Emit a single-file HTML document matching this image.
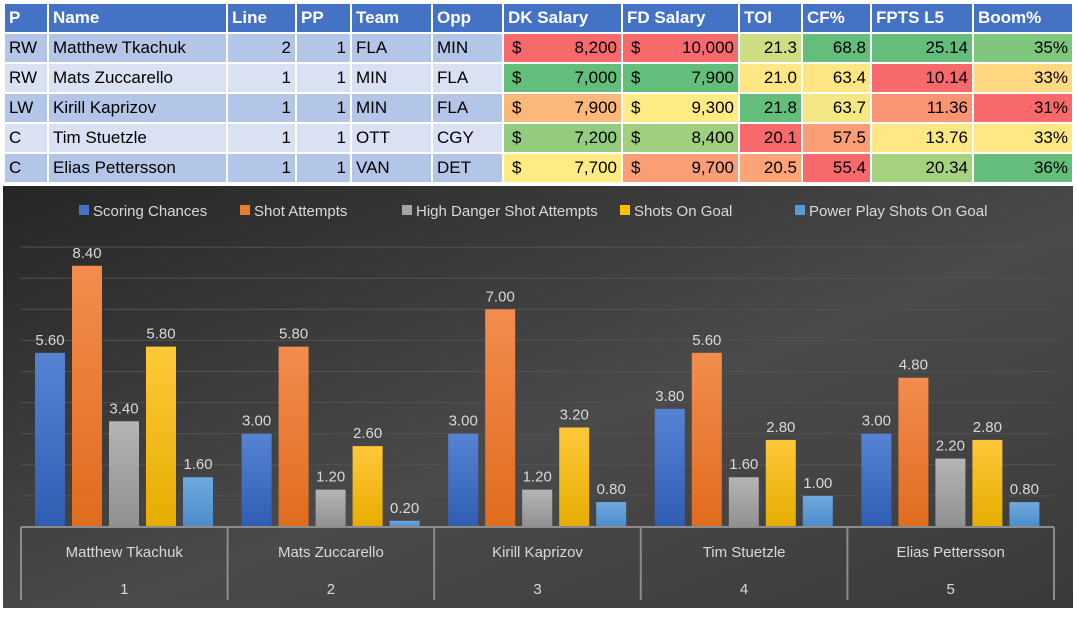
<!DOCTYPE html>
<html><head><meta charset="utf-8"><style>
body{margin:0;width:1077px;height:621px;background:#fff;overflow:hidden;font-family:"Liberation Sans",sans-serif}
table{position:absolute;left:3px;top:2px;border-collapse:collapse;font-size:17px;table-layout:fixed}
td,th{height:30px;padding:0 4px;border:2px solid #fff;white-space:nowrap;overflow:hidden;box-sizing:border-box}
th{background:#4472c4;color:#fff;text-align:left;font-weight:bold}
tr.a td.b{background:#b4c6e7}tr.c td.b{background:#d9e1f2}
.r{text-align:right}
.m{display:flex;justify-content:space-between;padding-left:4px}
#chart{position:absolute;left:3px;top:186px}
</style></head><body>
<table>
<colgroup><col style="width:44px"><col style="width:179px"><col style="width:69px"><col style="width:55px"><col style="width:81px"><col style="width:71px"><col style="width:119px"><col style="width:117px"><col style="width:63px"><col style="width:69px"><col style="width:102px"><col style="width:100px"></colgroup>
<tr><th>P</th><th>Name</th><th>Line</th><th>PP</th><th>Team</th><th>Opp</th><th>DK Salary</th><th>FD Salary</th><th>TOI</th><th>CF%</th><th>FPTS L5</th><th>Boom%</th></tr>
<tr class="a"><td class="b">RW</td><td class="b">Matthew Tkachuk</td><td class="b r">2</td><td class="b r">1</td><td class="b">FLA</td><td class="b">MIN</td><td style="background:#f8696b"><div class="m"><span>$</span><span>8,200</span></div></td><td style="background:#f8696b"><div class="m"><span>$</span><span>10,000</span></div></td><td class="r" style="background:#cddd82">21.3</td><td class="r" style="background:#63be7b">68.8</td><td class="r" style="background:#63be7b">25.14</td><td class="r" style="background:#7fc67d">35%</td></tr>
<tr class="c"><td class="b">RW</td><td class="b">Mats Zuccarello</td><td class="b r">1</td><td class="b r">1</td><td class="b">MIN</td><td class="b">FLA</td><td style="background:#63be7b"><div class="m"><span>$</span><span>7,000</span></div></td><td style="background:#63be7b"><div class="m"><span>$</span><span>7,900</span></div></td><td class="r" style="background:#ffe884">21.0</td><td class="r" style="background:#fee683">63.4</td><td class="r" style="background:#f8696b">10.14</td><td class="r" style="background:#ffd881">33%</td></tr>
<tr class="a"><td class="b">LW</td><td class="b">Kirill Kaprizov</td><td class="b r">1</td><td class="b r">1</td><td class="b">MIN</td><td class="b">FLA</td><td style="background:#fcb77a"><div class="m"><span>$</span><span>7,900</span></div></td><td style="background:#ffeb84"><div class="m"><span>$</span><span>9,300</span></div></td><td class="r" style="background:#63be7b">21.8</td><td class="r" style="background:#f4e884">63.7</td><td class="r" style="background:#fa9473">11.36</td><td class="r" style="background:#f8696b">31%</td></tr>
<tr class="c"><td class="b">C</td><td class="b">Tim Stuetzle</td><td class="b r">1</td><td class="b r">1</td><td class="b">OTT</td><td class="b">CGY</td><td style="background:#94cc7f"><div class="m"><span>$</span><span>7,200</span></div></td><td style="background:#a0d07f"><div class="m"><span>$</span><span>8,400</span></div></td><td class="r" style="background:#f8696b">20.1</td><td class="r" style="background:#fb9d75">57.5</td><td class="r" style="background:#ffe884">13.76</td><td class="r" style="background:#ffe884">33%</td></tr>
<tr class="a"><td class="b">C</td><td class="b">Elias Pettersson</td><td class="b r">1</td><td class="b r">1</td><td class="b">VAN</td><td class="b">DET</td><td style="background:#ffeb84"><div class="m"><span>$</span><span>7,700</span></div></td><td style="background:#fa9f75"><div class="m"><span>$</span><span>9,700</span></div></td><td class="r" style="background:#fca477">20.5</td><td class="r" style="background:#f8696b">55.4</td><td class="r" style="background:#a6d27f">20.34</td><td class="r" style="background:#63be7b">36%</td></tr>
</table>
<svg id="chart" width="1070" height="422">
<defs>
<linearGradient id="bg" x1="0" y1="0" x2="1" y2="1"><stop offset="0" stop-color="#262626"/><stop offset="0.55" stop-color="#4a4a4a"/><stop offset="1" stop-color="#3a3a3a"/></linearGradient>
<linearGradient id="g0" x1="0" y1="0" x2="0" y2="1"><stop offset="0" stop-color="#5683d4"/><stop offset="1" stop-color="#2f5db3"/></linearGradient>
<linearGradient id="g1" x1="0" y1="0" x2="0" y2="1"><stop offset="0" stop-color="#f38c4e"/><stop offset="1" stop-color="#e06c1d"/></linearGradient>
<linearGradient id="g2" x1="0" y1="0" x2="0" y2="1"><stop offset="0" stop-color="#b5b5b5"/><stop offset="1" stop-color="#909090"/></linearGradient>
<linearGradient id="g3" x1="0" y1="0" x2="0" y2="1"><stop offset="0" stop-color="#ffc83a"/><stop offset="1" stop-color="#e6ad00"/></linearGradient>
<linearGradient id="g4" x1="0" y1="0" x2="0" y2="1"><stop offset="0" stop-color="#6fa9dd"/><stop offset="1" stop-color="#4a8ccb"/></linearGradient>
</defs>
<rect width="1070" height="422" fill="url(#bg)"/>
<g id="grid"></g><g id="bars"></g><g id="axis"></g><g id="legend"></g>
</svg>
<script>
const categories=["Matthew Tkachuk","Mats Zuccarello","Kirill Kaprizov","Tim Stuetzle","Elias Pettersson"];
const categoryNums=["1","2","3","4","5"];
const seriesNames=["Scoring Chances","Shot Attempts","High Danger Shot Attempts","Shots On Goal","Power Play Shots On Goal"];
const scoringChances=[5.6,3.0,3.0,3.8,3.0];
const shotAttempts=[8.4,5.8,7.0,5.6,4.8];
const highDanger=[3.4,1.2,1.2,1.6,2.2];
const shotsOnGoal=[5.8,2.6,3.2,2.8,2.8];
const ppShotsOnGoal=[1.6,0.2,0.8,1.0,0.8];
const gridTicks=[1,2,3,4,5,6,7,8,9];
const series=[scoringChances,shotAttempts,highDanger,shotsOnGoal,ppShotsOnGoal];
const NS="http://www.w3.org/2000/svg";
const X0=18,X1=1051,BASE=341,UNIT=31.1;
const gw=(X1-X0)/categories.length;
const y=v=>BASE-v*UNIT;
const xb=(c,s)=>X0+c*gw+14+s*37;
function mk(t,a,p){const e=document.createElementNS(NS,t);for(const k in a)e.setAttribute(k,a[k]);p.appendChild(e);return e;}
const grid=document.getElementById('grid');
gridTicks.forEach(t=>{const l=mk('line',{x1:X0,x2:X1,y1:y(t),y2:y(t),stroke:'#525252','stroke-width':1},grid);

});
const bars=document.getElementById('bars');
series.forEach((arr,s)=>arr.forEach((v,c)=>{
const r=mk('rect',{x:xb(c,s),y:y(v),width:30,height:v*UNIT,fill:'url(#g'+s+')'},bars);


const t=mk('text',{x:xb(c,s)+15,y:y(v)-8,'text-anchor':'middle',fill:'#d9d9d9','font-size':15},bars);
t.textContent=v.toFixed(2);

}));
const ax=document.getElementById('axis');
mk('line',{x1:X0,x2:X1,y1:BASE,y2:BASE,stroke:'#8c8c8c','stroke-width':2},ax);
for(let i=0;i<=categories.length;i++){mk('line',{x1:X0+i*gw,x2:X0+i*gw,y1:BASE,y2:414,stroke:'#8c8c8c','stroke-width':2},ax);}
categories.forEach((n,i)=>{
const t=mk('text',{x:X0+i*gw+gw/2,y:371,'text-anchor':'middle',fill:'#d9d9d9','font-size':15},ax);t.textContent=n;


const u=mk('text',{x:X0+i*gw+gw/2,y:408,'text-anchor':'middle',fill:'#d9d9d9','font-size':15},ax);u.textContent=categoryNums[i];

});
const lg=document.getElementById('legend');
const lx=[76,237,399,617,792];
seriesNames.forEach((n,i)=>{
const g=mk('g',{},lg);


mk('rect',{x:lx[i],y:19,width:10,height:10,fill:['#4472c4','#ed7d31','#a5a5a5','#ffc000','#5b9bd5'][i]},g);
const t=mk('text',{x:lx[i]+14,y:30,fill:'#d9d9d9','font-size':15},g);t.textContent=n;});
</script>
</body></html>
